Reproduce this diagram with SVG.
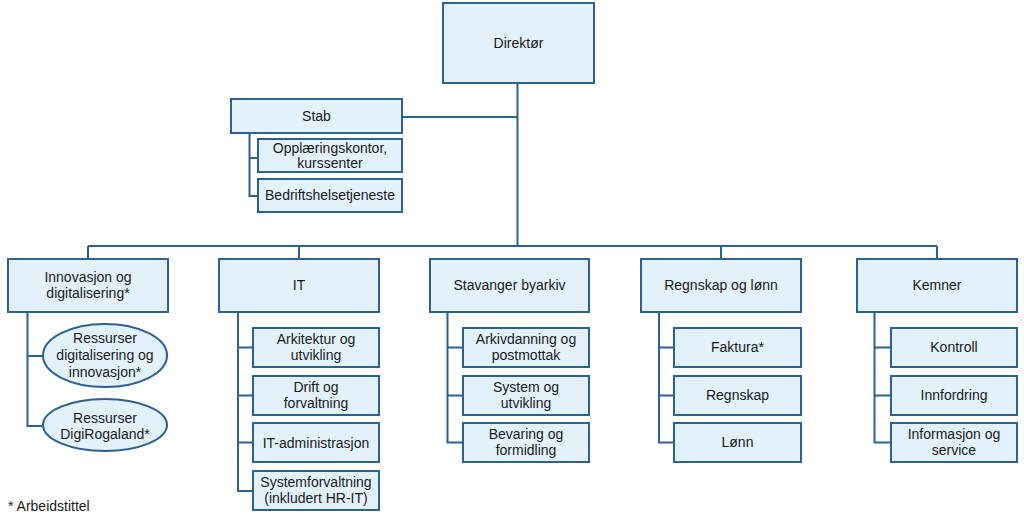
<svg xmlns="http://www.w3.org/2000/svg" width="1024" height="516" viewBox="0 0 1024 516">
<style>
.b{fill:#e3f1fb;stroke:#2c6195;stroke-width:2}
.c{fill:none;stroke:#2c6195;stroke-width:2}
text{font-family:"Liberation Sans",Arial,sans-serif;font-size:14px;fill:#1a1a1a;text-anchor:middle}
</style>
<rect width="1024" height="516" fill="#ffffff"/>
<g id="connectors">
<path class="c" d="M517.5 83V246M402 117H517.5M88 246H937M88 246V259M299 246V259M721 246V259M937 246V259"/>
<path class="c" d="M249.5 133V196H258M249.5 158H258"/>
<path class="c" d="M27.5 312V426H43M27.5 356H43"/>
<path class="c" d="M238 312V491H253M238 347.5H253M238 395.5H253M238 442.5H253"/>
<path class="c" d="M447.5 312V442.5H463M447.5 347.5H463M447.5 395.5H463"/>
<path class="c" d="M659 312V442.5H674M659 347.5H674M659 395.5H674"/>
<path class="c" d="M874.5 312V442.5H891M874.5 347.5H891M874.5 395.5H891"/>
</g>
<g id="direktor"><rect class="b" x="443" y="3" width="151" height="80"/><text x="518.5" y="48">Direktør</text></g>
<g id="stab"><rect class="b" x="231" y="99" width="171" height="34"/><text x="316.5" y="121">Stab</text></g>
<g id="opplaering"><rect class="b" x="258" y="139" width="144" height="33"/><text x="330" y="153">Opplæringskontor,</text><text x="330" y="168">kurssenter</text></g>
<g id="bedriftshelse"><rect class="b" x="258" y="179" width="144" height="33"/><text x="330" y="200">Bedriftshelsetjeneste</text></g>
<g id="innovasjon"><rect class="b" x="8" y="259" width="160" height="53"/><text x="88" y="282">Innovasjon og</text><text x="88" y="298">digitalisering*</text></g>
<g id="ress1"><ellipse class="b" cx="105" cy="355.5" rx="62" ry="31.5"/><text x="105" y="343">Ressurser</text><text x="105" y="360">digitalisering og</text><text x="105" y="377">innovasjon*</text></g>
<g id="ress2"><ellipse class="b" cx="105" cy="425" rx="62" ry="26"/><text x="105" y="423">Ressurser</text><text x="105" y="439">DigiRogaland*</text></g>
<g id="it"><rect class="b" x="219" y="259" width="160" height="53"/><text x="299" y="290">IT</text></g>
<g id="arkitektur"><rect class="b" x="253" y="328" width="126" height="39"/><text x="316" y="344">Arkitektur og</text><text x="316" y="360">utvikling</text></g>
<g id="drift"><rect class="b" x="253" y="376" width="126" height="39"/><text x="316" y="392">Drift og</text><text x="316" y="408">forvaltning</text></g>
<g id="itadmin"><rect class="b" x="253" y="423" width="126" height="39"/><text x="316" y="448">IT-administrasjon</text></g>
<g id="systemforv"><rect class="b" x="253" y="471" width="126" height="39"/><text x="316" y="487">Systemforvaltning</text><text x="316" y="503">(inkludert HR-IT)</text></g>
<g id="byarkiv"><rect class="b" x="430" y="259" width="159" height="53"/><text x="509.5" y="290">Stavanger byarkiv</text></g>
<g id="arkivdanning"><rect class="b" x="463" y="328" width="126" height="39"/><text x="526" y="344">Arkivdanning og</text><text x="526" y="360">postmottak</text></g>
<g id="system"><rect class="b" x="463" y="376" width="126" height="39"/><text x="526" y="392">System og</text><text x="526" y="408">utvikling</text></g>
<g id="bevaring"><rect class="b" x="463" y="423" width="126" height="39"/><text x="526" y="439">Bevaring og</text><text x="526" y="455">formidling</text></g>
<g id="regnskaplonn"><rect class="b" x="641" y="259" width="160" height="53"/><text x="721" y="290">Regnskap og lønn</text></g>
<g id="faktura"><rect class="b" x="674" y="328" width="127" height="39"/><text x="737.5" y="352">Faktura*</text></g>
<g id="regnskap"><rect class="b" x="674" y="376" width="127" height="39"/><text x="737.5" y="400">Regnskap</text></g>
<g id="lonn"><rect class="b" x="674" y="423" width="127" height="39"/><text x="737.5" y="447">Lønn</text></g>
<g id="kemner"><rect class="b" x="857" y="259" width="160" height="53"/><text x="937" y="290">Kemner</text></g>
<g id="kontroll"><rect class="b" x="891" y="328" width="126" height="39"/><text x="954" y="352">Kontroll</text></g>
<g id="innfordring"><rect class="b" x="891" y="376" width="126" height="39"/><text x="954" y="400">Innfordring</text></g>
<g id="informasjon"><rect class="b" x="891" y="423" width="126" height="39"/><text x="954" y="439">Informasjon og</text><text x="954" y="455">service</text></g>
<text x="8" y="511" style="text-anchor:start">* Arbeidstittel</text>
</svg>
